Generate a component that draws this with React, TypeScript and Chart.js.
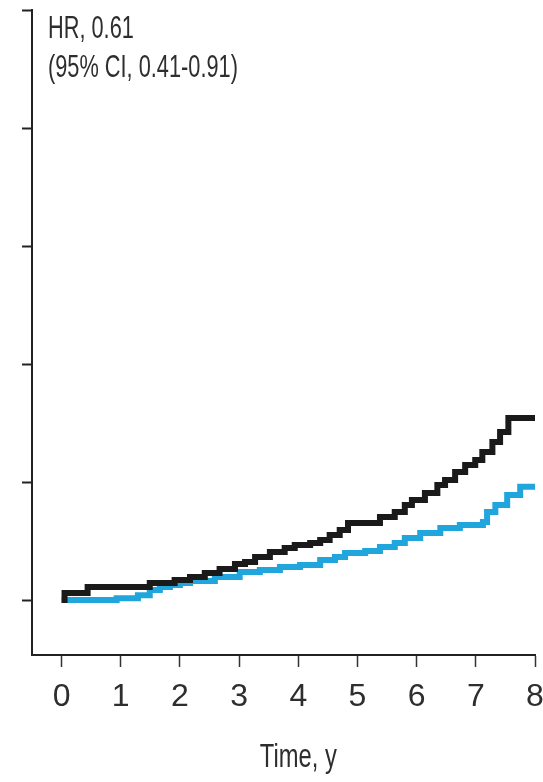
import React, { useEffect, useRef } from "react";
import { Chart, registerables } from "chart.js";

Chart.register(...registerables);

// Time (years) at which each step begins
const blackTimes = [0, 0.05, 0.44, 1.49, 1.91, 2.17, 2.42, 2.67, 2.93, 3.1, 3.27, 3.52, 3.77, 3.94, 4.2, 4.37, 4.53, 4.7, 4.84, 5.38, 5.63, 5.8, 5.92, 6.14, 6.35, 6.48, 6.65, 6.82, 6.99, 7.11, 7.28, 7.41, 7.55, 8.0];
// Cumulative incidence (%) for the black group
const blackValues = [0, 0.6, 1.1, 1.44, 1.69, 1.95, 2.29, 2.63, 3.05, 3.22, 3.64, 4.07, 4.41, 4.66, 4.83, 5.08, 5.51, 5.93, 6.53, 7.03, 7.46, 8.05, 8.47, 9.07, 9.75, 10.17, 10.85, 11.44, 11.86, 12.54, 13.39, 14.24, 15.42, 15.42];

const cyanTimes = [0, 0.93, 1.29, 1.49, 1.66, 1.83, 2.0, 2.17, 2.59, 3.01, 3.35, 3.69, 4.03, 4.37, 4.62, 4.79, 5.13, 5.38, 5.63, 5.8, 6.06, 6.4, 6.73, 7.12, 7.19, 7.33, 7.53, 7.75, 8.0];
const cyanValues = [0, 0.15, 0.4, 0.85, 1.1, 1.27, 1.44, 1.61, 1.95, 2.37, 2.54, 2.8, 2.97, 3.39, 3.64, 3.98, 4.15, 4.49, 4.83, 5.25, 5.68, 6.1, 6.36, 6.61, 7.46, 8.05, 8.9, 9.6, 9.6];

const xTickValues = [0, 1, 2, 3, 4, 5, 6, 7, 8];
const yTickValues = [0, 10, 20, 30, 40, 50];

const annotationLines = ["HR, 0.61", "(95% CI, 0.41-0.91)"];
const xTitle = "Time, y";

const FONT = "'Liberation Sans', Arial, sans-serif";
const TEXT_COLOR = "#2e2e2e";

const toPoints = (xs: number[], ys: number[]) => xs.map((x, i) => ({ x, y: ys[i] }));

// draws horizontally condensed real text
const drawCondensed = (ctx: CanvasRenderingContext2D, text: string, x: number, y: number, squeeze: number, align: CanvasTextAlign) => {
  ctx.save();
  ctx.translate(x, y);
  ctx.scale(squeeze, 1);
  ctx.textAlign = align;
  ctx.fillText(text, 0, 0);
  ctx.restore();
};

const textPlugin = {
  id: "textPlugin",
  afterDraw(chart: any) {
    const { ctx, chartArea, scales } = chart;
    ctx.save();
    ctx.fillStyle = TEXT_COLOR;
    ctx.textBaseline = "alphabetic";
    ctx.font = `32px ${FONT}`;
    drawCondensed(ctx, annotationLines[0], chartArea.left + 16, chartArea.top + 28, 0.68, "left");
    drawCondensed(ctx, annotationLines[1], chartArea.left + 16, chartArea.top + 67, 0.68, "left");
    ctx.font = `33px ${FONT}`;
    drawCondensed(ctx, xTitle, scales.x.getPixelForValue(4), chartArea.bottom + 112, 0.72, "center");
    ctx.restore();
  },
};

export default function App() {
  const canvasRef = useRef<HTMLCanvasElement | null>(null);

  useEffect(() => {
    if (!canvasRef.current) return;
    const chart = new Chart(canvasRef.current, {
      type: "line",
      data: {
        datasets: [
          {
            label: "Group A",
            data: toPoints(blackTimes, blackValues),
            borderColor: "#1a1a1a",
            borderWidth: 6,
            stepped: "before",
            pointRadius: 0,
            fill: false,
            borderCapStyle: "butt",
            borderJoinStyle: "miter",
          },
          {
            label: "Group B",
            data: toPoints(cyanTimes, cyanValues),
            borderColor: "#20a6dc",
            borderWidth: 6,
            stepped: "before",
            pointRadius: 0,
            fill: false,
            borderCapStyle: "butt",
            borderJoinStyle: "miter",
          },
        ],
      },
      options: {
        animation: false,
        responsive: true,
        maintainAspectRatio: false,
        layout: { padding: { left: 0, right: 8, top: 10, bottom: 0 } },
        plugins: {
          legend: { display: false },
          tooltip: { enabled: false },
        },
        scales: {
          x: {
            type: "linear",
            min: -0.5,
            max: 8,
            afterBuildTicks: (scale: any) => {
              scale.ticks = xTickValues.map((v) => ({ value: v }));
            },
            afterFit: (scale: any) => {
              scale.height = 127;
              scale.paddingLeft = 0;
              scale.paddingRight = 0;
            },
            border: { display: true, color: "#222", width: 2 },
            grid: {
              drawOnChartArea: false,
              drawTicks: true,
              tickLength: 12,
              tickColor: "#333",
              tickWidth: 1.5,
            },
            ticks: {
              color: TEXT_COLOR,
              font: { family: FONT, size: 32 },
              padding: 11,
              maxRotation: 0,
              autoSkip: false,
            },
          },
          y: {
            type: "linear",
            min: -4.66,
            max: 50,
            afterBuildTicks: (scale: any) => {
              scale.ticks = yTickValues.map((v) => ({ value: v }));
            },
            afterFit: (scale: any) => {
              scale.width = 32;
              scale.paddingTop = 0;
              scale.paddingBottom = 0;
            },
            border: { display: true, color: "#222", width: 2 },
            grid: {
              drawOnChartArea: false,
              drawTicks: true,
              tickLength: 10,
              tickColor: "#222",
              tickWidth: 2,
            },
            ticks: { display: false },
          },
        },
      },
      plugins: [textPlugin],
    });
    return () => chart.destroy();
  }, []);

  return (
    <div style={{ position: "absolute", left: 0, top: 0, width: 543, height: 782, background: "#fff" }}>
      <canvas ref={canvasRef} />
    </div>
  );
}
